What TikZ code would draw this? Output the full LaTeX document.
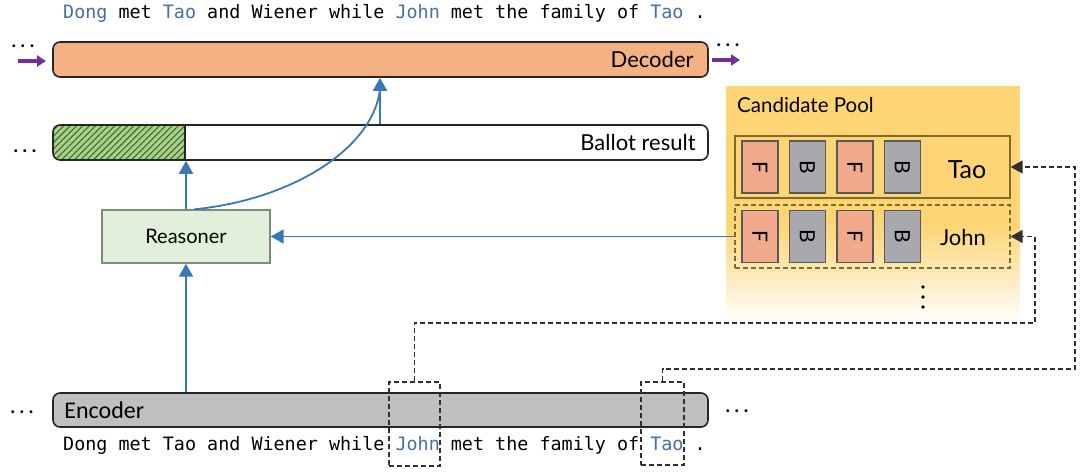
\documentclass[tikz,border=0pt]{standalone}
\usepackage{fontspec}
\usepackage{graphicx}
\setmainfont{Lato}
\newfontfamily\monofont{DejaVu Sans Mono}
\newfontfamily\calfont{Carlito}
\usetikzlibrary{arrows.meta,patterns.meta}
\definecolor{decfill}{HTML}{F4B183}
\definecolor{encfill}{HTML}{BFBFBF}
\definecolor{reafill}{HTML}{E2EFDA}
\definecolor{reabord}{HTML}{7F8A7F}
\definecolor{arrblue}{HTML}{3A78B5}
\definecolor{wordblue}{HTML}{4A6FA5}
\definecolor{purp}{HTML}{7030A0}
\definecolor{hatchfill}{HTML}{A9D18E}
\definecolor{hatchline}{HTML}{3F6A25}
\definecolor{poolyel}{HTML}{FDD575}
\definecolor{rowbord}{HTML}{7F6A2A}
\definecolor{ffill}{HTML}{F0A98A}
\definecolor{bfill}{HTML}{A8A8AE}
\definecolor{dashcol}{HTML}{303030}
\tikzset{
  bar/.style={draw=black!85, line width=1.6pt, rounded corners=7pt, inner sep=0pt, minimum width=655pt},
  bluearr/.style={draw=arrblue, line width=1.8pt, -{Triangle[width=14pt,length=13pt]}},
  blueline/.style={draw=arrblue, line width=1.8pt},
  purparr/.style={draw=purp, line width=3.5pt, -{Triangle[width=11pt,length=9pt]}},
  dasharr/.style={draw=dashcol, line width=1.6pt, dash pattern=on 5pt off 3pt, -{Triangle[width=13pt,length=12pt]}},
  dashbox/.style={draw=dashcol, line width=1.6pt, dash pattern=on 5pt off 3pt, inner sep=0pt},
  cellF/.style={draw=black!65, line width=1.5pt, fill=ffill, minimum width=36pt, minimum height=52pt, inner sep=0pt, font=\fontsize{21}{21}\selectfont},
  cellB/.style={draw=black!65, line width=1.5pt, fill=bfill, minimum width=36pt, minimum height=52pt, inner sep=0pt, font=\fontsize{21}{21}\selectfont},
  rowbox/.style={draw=rowbord, line width=1.3pt, minimum width=275pt, inner sep=0pt},
  dotstext/.style={anchor=base, inner sep=0pt, font=\bfseries\fontsize{19}{19}\selectfont},
  sentence/.style={anchor=base west, inner sep=0pt, font=\monofont\fontsize{18.4}{20}\selectfont},
}
\newcommand{\tdots}{.\hspace{4.5pt}.\hspace{4.5pt}.}
\begin{document}
\begin{tikzpicture}[x=1pt,y=-1pt]
\useasboundingbox (0,0) rectangle (1080,476);
\fill[white] (0,0) rectangle (1080,476);

% candidate pool background
\fill[poolyel] (726,86) rectangle (1020,225);
\shade[top color=poolyel, bottom color=white] (726,224.5) rectangle (1020,323);
\node[anchor=west, inner sep=0pt, font=\fontsize{20.5}{22}\selectfont] (pooltitle) at (737,105) {Candidate Pool};

% rows
\node[rowbox, minimum height=62pt] (taorow) at (872.5,167) {};
\node[dashbox, draw=rowbord, line width=1.3pt, minimum width=275pt, minimum height=63pt] (johnrow) at (872.5,236.5) {};
\node[cellF] (tf1) at (760,167) {\rotatebox{-90}{F}};
\node[cellB] (tb1) at (807.5,167) {\rotatebox{-90}{B}};
\node[cellF] (tf2) at (855,167) {\rotatebox{-90}{F}};
\node[cellB] (tb2) at (902.5,167) {\rotatebox{-90}{B}};
\node[cellF] (jf1) at (760,236.5) {\rotatebox{-90}{F}};
\node[cellB] (jb1) at (807.5,236.5) {\rotatebox{-90}{B}};
\node[cellF] (jf2) at (855,236.5) {\rotatebox{-90}{F}};
\node[cellB] (jb2) at (902.5,236.5) {\rotatebox{-90}{B}};
\node[inner sep=0pt, font=\fontsize{25}{26}\selectfont] (taolbl) at (967,170) {Tao};
\node[inner sep=0pt, font=\fontsize{22}{24}\selectfont] (johnlbl) at (963,237) {John};
\fill (923,287) circle (1.8pt);
\fill (923,297) circle (1.8pt);
\fill (923,307) circle (1.8pt);

% decoder
\node[bar, fill=decfill, minimum height=35pt] (dec) at (380.5,59.5) {};
\node[anchor=east, inner sep=0pt, font=\fontsize{22}{24}\selectfont] (declbl) at ([xshift=-15pt]dec.east) {Decoder};
\node[dotstext] (decdl) at (23,48) {\tdots};
\node[dotstext] (decdr) at (728,47) {\tdots};
\coordinate (pl1) at (18,61);
\coordinate (pl2) at (46,61);
\coordinate (pr1) at (712,60);
\coordinate (pr2) at (740,60);
\draw[purparr] (pl1) -- (pl2);
\draw[purparr] (pr1) -- (pr2);

% ballot
\begin{scope}
\clip[rounded corners=7pt] (53,125) rectangle (708,160);
\fill[hatchfill] (53,125) rectangle (185,160);
\fill[pattern={Lines[angle=45,distance=4.5pt,line width=1.1pt]}, pattern color=hatchline] (53,125) rectangle (185,160);
\end{scope}
\draw[black!85, line width=1.6pt] (185,125) -- (185,160);
\node[bar, minimum height=35pt] (bal) at (380.5,142.5) {};
\node[anchor=east, inner sep=0pt, font=\fontsize{22}{24}\selectfont] (ballbl) at ([xshift=-13pt]bal.east) {Ballot result};
\node[dotstext] (baldl) at (25,153) {\tdots};

% reasoner
\node[draw=reabord, line width=1.3pt, fill=reafill, minimum width=168pt, minimum height=53pt, inner sep=0pt, font=\fontsize{20}{22}\selectfont] (rea) at (186,236.5) {Reasoner};

% encoder
\node[bar, fill=encfill, minimum height=34pt] (enc) at (380.5,410) {};
\node[anchor=west, inner sep=0pt, font=\calfont\fontsize{24}{26}\selectfont] (enclbl) at ([xshift=12pt]enc.west) {Encoder};
\node[dotstext] (encdl) at (22,413) {\tdots};
\node[dotstext] (encdr) at (737,412) {\tdots};

% sentences
\node[sentence] (toptext) at (63,19) {\textcolor{wordblue}{Dong} met \textcolor{wordblue}{Tao} and Wiener while \textcolor{wordblue}{John} met the family of \textcolor{wordblue}{Tao} .};
\node[sentence] (bottext) at (63,450) {Dong met Tao and Wiener while \textcolor{wordblue}{John} met the family of \textcolor{wordblue}{Tao} .};

% dashed boxes
\node[dashbox, minimum width=51pt, minimum height=84pt] (johnbox) at (414.5,424) {};
\node[dashbox, minimum width=43pt, minimum height=83pt] (taobox) at (662.5,423.5) {};

% blue connectors
\coordinate (bx) at (380,142.5);
\coordinate (curveend) at (380,90);
\draw[bluearr] (rea.north) -- (rea.north |- bal.south);
\draw[bluearr] (rea.south |- enc.north) -- (rea.south);
\draw[bluearr] (johnrow.west) -- (rea.east);
\draw[bluearr] (bx |- bal.north) -- (bx |- dec.south);
\draw[blueline] ([xshift=8pt]rea.north) .. controls (290,200) and (372,150) .. (curveend);

% dashed connectors
\coordinate (jc) at (1035,323);
\coordinate (tc) at (1075,369);
\draw[dasharr] (johnbox.north) |- (jc) |- (johnrow.east);
\draw[dasharr] (taobox.north) |- (tc) |- (taorow.east);
\end{tikzpicture}
\end{document}
